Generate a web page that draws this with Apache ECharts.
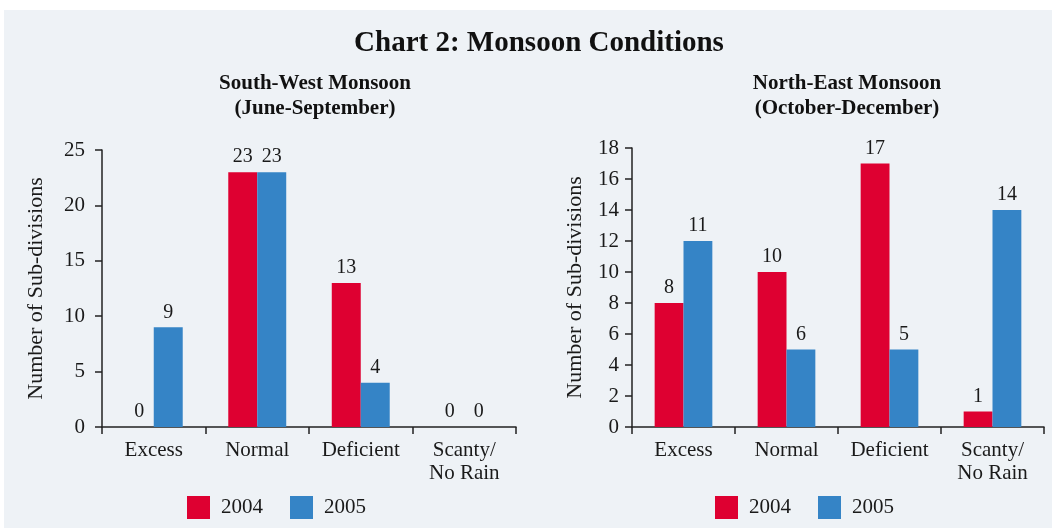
<!DOCTYPE html>
<html>
<head>
<meta charset="utf-8">
<title>Chart 2: Monsoon Conditions</title>
<script src="https://cdn.jsdelivr.net/npm/echarts@6/dist/echarts.min.js"></script>
<style>
  html, body { margin: 0; padding: 0; background: #ffffff; }
  #chart { width: 1052px; height: 528px; }
</style>
</head>
<body>
<div id="chart"></div>
<script>
// categories and values
const categories = ["Excess", "Normal", "Deficient", "Scanty/\nNo Rain"];
const years = ["2004", "2005"];

// south-west monsoon (June-September)
const sw2004 = [0, 23, 13, 0];
const sw2005 = [9, 23, 4, 0];
const swLabels2004 = ["0", "23", "13", "0"];
const swLabels2005 = ["9", "23", "4", "0"];

// north-east monsoon (October-December) - printed labels differ from bar heights
const ne2004 = [8, 10, 17, 1];
const ne2005 = [12, 5, 5, 14];
const neLabels2004 = ["8", "10", "17", "1"];
const neLabels2005 = ["11", "6", "5", "14"];

const FONT = "'Liberation Serif', 'DejaVu Serif', serif";
const RED = "#de0031";
const BLUE = "#3584c6";

const chart = echarts.init(document.getElementById("chart"));

function barSeries(name, data, labels, idx, color) {
  return {
    name: name,
    type: "bar",
    xAxisIndex: idx,
    yAxisIndex: idx,
    data: data,
    barWidth: "28%",
    barGap: "0%",
    itemStyle: { color: color },
    label: {
      show: true,
      position: "top",
      distance: 5,
      color: "#1a1a1a",
      fontFamily: FONT,
      fontSize: 20,
      formatter: (p) => labels[p.dataIndex],
    },
  };
}

function makeX(idx) {
  return {
    type: "category",
    gridIndex: idx,
    data: categories,
    axisLine: { lineStyle: { color: "#222", width: 1.5 } },
    axisTick: { show: true, length: 7, lineStyle: { color: "#222", width: 1.5 } },
    axisLabel: {
      color: "#1a1a1a",
      fontFamily: FONT,
      fontSize: 21,
      lineHeight: 23,
      margin: 12,
      interval: 0,
    },
  };
}

function makeY(idx, max, interval, labelGap, nameGap) {
  return {
    type: "value",
    gridIndex: idx,
    min: 0,
    max: max,
    interval: interval,
    name: "Number of Sub-divisions",
    nameLocation: "middle",
    nameGap: nameGap,
    nameTextStyle: { color: "#1a1a1a", fontFamily: FONT, fontSize: 22 },
    axisLine: { show: true, lineStyle: { color: "#222", width: 1.5 } },
    axisTick: { show: true, length: 7, lineStyle: { color: "#222", width: 1.5 } },
    axisLabel: { color: "#1a1a1a", fontFamily: FONT, fontSize: 21, margin: labelGap },
    splitLine: { show: false },
  };
}

function makeLegend(left) {
  return {
    data: years,
    left: left,
    top: 496,
    padding: 0,
    icon: "rect",
    itemWidth: 23,
    itemHeight: 23,
    itemGap: 27,
    textStyle: {
      color: "#1a1a1a",
      fontFamily: FONT,
      fontSize: 21,
      padding: [6, 0, 0, 6],
    },
  };
}

const subStyle = {
  fontFamily: FONT,
  fontSize: 21,
  fontWeight: "bold",
  color: "#111",
  lineHeight: 25,
};

const option = {
  backgroundColor: "#ffffff",
  animation: false,
  graphic: [
    {
      type: "rect",
      z: -10,
      silent: true,
      shape: { x: 4, y: 10, width: 1048, height: 518 },
      style: { fill: "#eef2f6" },
    },
  ],
  title: [
    {
      text: "Chart 2: Monsoon Conditions",
      left: 534,
      top: 24,
      textAlign: "center",
      textStyle: { fontFamily: FONT, fontSize: 29, fontWeight: "bold", color: "#111" },
    },
    {
      text: "South-West Monsoon\n(June-September)",
      left: 310,
      top: 66,
      textAlign: "center",
      textStyle: subStyle,
    },
    {
      text: "North-East Monsoon\n(October-December)",
      left: 842,
      top: 66,
      textAlign: "center",
      textStyle: subStyle,
    },
  ],
  legend: [makeLegend(187), makeLegend(715)],
  grid: [
    { left: 102, right: 536, top: 150, bottom: 101 },
    { left: 632, right: 8, top: 148, bottom: 101 },
  ],
  xAxis: [makeX(0), makeX(1)],
  yAxis: [makeY(0, 25, 5, 17, 55), makeY(1, 18, 2, 13, 46)],
  series: [
    barSeries("2004", sw2004, swLabels2004, 0, RED),
    barSeries("2005", sw2005, swLabels2005, 0, BLUE),
    barSeries("2004", ne2004, neLabels2004, 1, RED),
    barSeries("2005", ne2005, neLabels2005, 1, BLUE),
  ],
};

chart.setOption(option);
window.addEventListener("resize", () => chart.resize());
</script>
</body>
</html>
